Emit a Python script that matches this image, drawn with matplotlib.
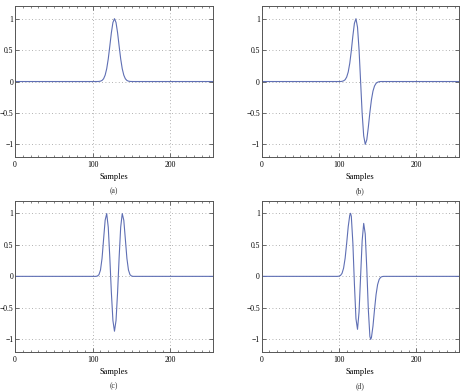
import matplotlib
matplotlib.use("Agg")
import matplotlib.pyplot as plt
from matplotlib.ticker import MultipleLocator, FixedLocator, FixedFormatter

plt.rcParams["font.family"] = ["Liberation Serif", "DejaVu Serif"]

# samples (flat zero outside the pulse)
a_x = [0, 104, 106, 108, 110, 112, 114, 116, 118, 120, 122, 124, 126, 128,
       130, 132, 134, 136, 138, 140, 142, 144, 146, 148, 150, 152, 255]
a_y = [0, 0.0, 0.0004, 0.0017, 0.006, 0.017, 0.044, 0.101, 0.203, 0.360, 0.563, 0.775, 0.938, 1.0,
       0.938, 0.775, 0.563, 0.360, 0.203, 0.101, 0.044, 0.017, 0.006, 0.0017, 0.0004, 0.0, 0]

b_x = [0, 102, 104, 106, 108, 110, 112, 114, 116, 118, 120, 122, 124, 126, 128,
       130, 132, 134, 136, 138, 140, 142, 144, 146, 148, 150, 152, 154, 255]
b_y = [0, 0.0, 0.003, 0.011, 0.029, 0.071, 0.152, 0.291, 0.490, 0.725, 0.926, 0.999, 0.864, 0.505, 0.0,
       -0.505, -0.864, -0.999, -0.926, -0.725, -0.490, -0.291, -0.152, -0.071, -0.029, -0.011, -0.003, 0.0, 0]

c_x = [0, 104, 106, 108, 110, 112, 114, 116, 118, 120, 122, 124, 126, 128,
       130, 132, 134, 136, 138, 140, 142, 144, 146, 148, 150, 152, 255]
c_y = [0, 0.0, 0.005, 0.026, 0.10, 0.285, 0.59, 0.89, 0.996, 0.78, 0.30, -0.255, -0.70, -0.87,
       -0.70, -0.255, 0.30, 0.78, 0.996, 0.89, 0.59, 0.285, 0.10, 0.026, 0.005, 0.0, 0]

d_x = [0, 98, 100, 102, 104, 106, 108, 110, 112, 114, 115, 116, 118, 120, 122, 124, 126, 128,
       130, 132, 134, 136, 138, 140, 141, 142, 144, 146, 148, 150, 152, 154, 156, 158, 255]
d_y = [0, 0.0, 0.003, 0.014, 0.048, 0.130, 0.288, 0.526, 0.789, 0.971, 1.0, 0.951, 0.529, -0.123,
       -0.672, -0.840, -0.564, 0.0,
       0.564, 0.840, 0.672, 0.123, -0.529, -0.951, -1.0, -0.971, -0.789, -0.526, -0.288, -0.130,
       -0.048, -0.014, -0.003, 0.0, 0]

panels = [("(a)", a_x, a_y), ("(b)", b_x, b_y), ("(c)", c_x, c_y), ("(d)", d_x, d_y)]
y_ticks = [-1, -0.5, 0, 0.5, 1]
y_labels = ["\u22121", "\u22120.5", "0", "0.5", "1"]
x_ticks = [0, 100, 200]

line_color = "#5f6fb4"
boxes = [
    [0.0324, 0.5985, 0.428, 0.386],
    [0.565, 0.5985, 0.426, 0.386],
    [0.0324, 0.0997, 0.428, 0.387],
    [0.565, 0.0997, 0.426, 0.387],
]

fig = plt.figure(figsize=(4.63, 3.91), dpi=100)
for (tag, xs, ys), box in zip(panels, boxes):
    ax = fig.add_axes(box)
    ax.plot(xs, ys, color=line_color, lw=0.8)
    ax.set_xlim(0, 255)
    ax.set_ylim(-1.2, 1.2)
    ax.xaxis.set_major_locator(FixedLocator(x_ticks))
    ax.xaxis.set_minor_locator(MultipleLocator(10))
    ax.yaxis.set_major_locator(FixedLocator(y_ticks))
    ax.yaxis.set_major_formatter(FixedFormatter(y_labels))
    ax.tick_params(which="both", direction="in", top=True, right=True,
                   color="#555555", labelsize=5.5)
    ax.tick_params(axis="x", pad=3)
    ax.tick_params(axis="y", pad=1.2)
    ax.tick_params(which="major", length=3, width=0.6)
    ax.tick_params(which="minor", length=1.5, width=0.5)
    ax.grid(True, which="major", linestyle=(0, (1, 3)), color="#999999", lw=0.6)
    for s in ax.spines.values():
        s.set_color("#555555")
        s.set_linewidth(0.7)
    ax.set_xlabel("Samples", fontsize=6, labelpad=3)
    ax.text(0.5, -0.225, tag, transform=ax.transAxes, ha="center", va="center",
            fontsize=5.5, color="#333333")

fig.savefig("out.png", dpi=100)
